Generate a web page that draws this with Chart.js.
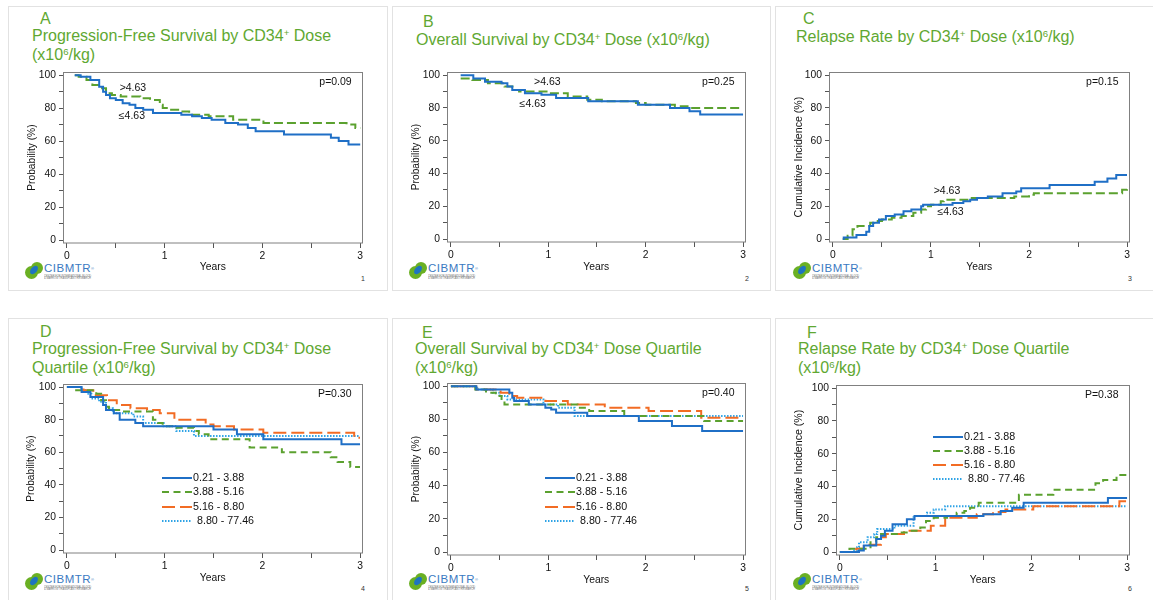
<!DOCTYPE html>
<html>
<head>
<meta charset="utf-8">
<script src="https://cdn.jsdelivr.net/npm/chart.js@4.4.1/dist/chart.umd.min.js"></script>
<style>
  html, body { margin:0; padding:0; background:#fff; }
  body { width:1153px; height:600px; overflow:hidden; position:relative; font-family:"Liberation Sans", Arial, sans-serif; }
  .card { position:absolute; border:1px solid #e2e2e2; box-sizing:border-box; background:#fff; }
  .ttl { position:absolute; white-space:nowrap; font-size:16px; line-height:19px; color:#5fa832; }
  .ttl sup { font-size:60%; line-height:0; vertical-align:0.5em; }
  canvas { position:absolute; }
  .lg1 { position:absolute; width:13px; height:13px; border-radius:50%; background:#6ab023; }
  .lg2 { position:absolute; width:12px; height:12px; border-radius:50%; background:#6ab023; }
  .lg3 { position:absolute; width:6px; height:10px; border-radius:50%; background:#1e74c0; transform:rotate(40deg); }
  .lgt { position:absolute; font-size:11.5px; line-height:11px; color:#3b7ac2; letter-spacing:0.5px; white-space:nowrap; }
  .lgt span { font-size:4px; vertical-align:top; }
  .lgs { position:absolute; font-size:8px; line-height:8px; color:#777; white-space:nowrap; transform:scale(0.32); transform-origin:0 0; }
  .pg { position:absolute; font-size:7px; color:#333; }
</style>
</head>
<body>
<script>
// ---------------- data ----------------
const xTicks = [0, 0.5, 1, 1.5, 2, 2.5, 3];
const yTicks = [0, 10, 20, 30, 40, 50, 60, 70, 80, 90, 100];
const doseGroups = ['\u22644.63', '>4.63'];
const quartiles = ['0.21 - 3.88', '3.88 - 5.16', '5.16 - 8.80', '8.80 - 77.46'];
const pValues = ['p=0.09', 'p=0.25', 'p=0.15', 'P=0.30', 'p=0.40', 'P=0.38'];

// A: progression-free survival, 2 groups  [years, %]
const A_low  = [[0.08,100],[0.14,99],[0.24,97],[0.33,93],[0.37,90],[0.40,88],[0.44,86],[0.50,85],[0.57,83],[0.64,82],[0.70,80],[0.78,79],[0.88,77],[1.17,76],[1.28,75],[1.38,74],[1.48,73],[1.62,71],[1.75,70],[1.85,68],[1.93,66],[2.22,64],[2.70,62],[2.78,60],[2.88,58],[3.0,58]];
const A_high = [[0.08,100],[0.12,99],[0.20,97],[0.26,94],[0.36,92],[0.40,89],[0.46,88],[0.55,87],[0.75,86],[0.85,85],[0.95,82],[0.98,80],[1.05,79],[1.15,78],[1.25,76],[1.45,75],[1.70,73],[2.01,71],[2.86,70],[2.95,68],[3.0,68]];
// B: overall survival, 2 groups
const B_low  = [[0.10,100],[0.23,98],[0.35,96],[0.52,95],[0.58,93],[0.63,91],[0.76,89],[0.93,88],[1.08,86],[1.41,84],[1.92,82],[2.25,80],[2.45,78],[2.56,76],[3.0,76]];
const B_high = [[0.10,98],[0.22,97],[0.38,95],[0.55,93],[0.66,91],[0.70,90],[1.00,89],[1.20,87],[1.40,85],[1.55,84],[1.90,83],[2.00,82],[2.30,81],[2.43,80],[3.0,80]];
// C: relapse, 2 groups
const C_low  = [[0.10,0],[0.11,1],[0.24,2.5],[0.34,4.5],[0.37,8],[0.41,10],[0.47,12],[0.54,14],[0.63,15],[0.72,17],[0.80,18],[0.90,20],[0.92,21],[1.22,22],[1.33,23],[1.40,24],[1.47,25],[1.58,26],[1.73,28],[1.87,29],[1.92,31],[2.21,33],[2.67,35],[2.80,37],[2.89,39],[3.0,39]];
const C_high = [[0.10,0],[0.15,2],[0.20,6],[0.25,8],[0.38,10],[0.42,11],[0.50,12],[0.60,13],[0.70,14],[0.82,16],[0.90,18],[0.95,20],[1.00,21],[1.10,23],[1.13,24],[1.40,25],[1.85,26],[2.00,27],[2.05,28],[2.95,30],[3.0,31]];
// D: progression-free survival, quartiles
const D_q1 = [[0,100],[0.15,97],[0.24,94],[0.37,89],[0.40,86],[0.48,84],[0.54,80],[0.70,78],[0.78,76],[1.50,74],[1.74,71],[2.01,68],[2.81,65],[3.0,65]];
const D_q2 = [[0,100],[0.07,98],[0.30,96],[0.35,92],[0.40,88],[0.43,86],[0.55,85],[0.88,80],[0.93,78],[0.98,76],[1.10,75],[1.30,73],[1.35,71],[1.45,68],[1.87,63],[2.20,60],[2.70,57],[2.77,54],[2.90,51],[3.0,51]];
const D_q3 = [[0,100],[0.17,98],[0.27,95],[0.41,92],[0.51,89],[0.65,87],[0.82,86],[0.95,84],[1.10,80],[1.42,77],[1.50,76],[1.71,74],[2.01,72],[2.94,69],[3.0,69]];
const D_q4 = [[0,100],[0.15,98],[0.20,96],[0.25,93],[0.33,91],[0.40,87],[0.47,84],[0.68,82],[0.78,78],[0.99,76],[1.12,73],[1.30,70],[3.0,70]];
// E: overall survival, quartiles
const E_q1 = [[0,100],[0.26,98],[0.60,96],[0.63,93],[0.65,91],[0.80,89],[0.97,87],[1.03,86],[1.08,84],[1.40,82],[1.93,79],[2.27,76],[2.58,73],[3.0,73]];
const E_q2 = [[0,100],[0.25,98],[0.36,96],[0.46,94],[0.52,91],[0.55,89],[1.30,87],[1.42,85],[1.78,83],[1.80,82],[2.60,79],[3.0,79]];
const E_q3 = [[0,100],[0.26,98],[0.51,96],[0.60,94],[0.68,93],[0.97,91],[1.20,89],[1.58,87],[2.03,85],[2.57,81],[3.0,81]];
const E_q4 = [[0,100],[0.27,98],[0.43,96],[0.50,94],[0.58,92],[0.95,89],[1.10,87],[1.27,82],[3.0,82]];
// F: relapse, quartiles
const F_q1 = [[0,0],[0.20,1],[0.25,4],[0.38,8],[0.43,10],[0.47,13],[0.55,17],[0.70,20],[0.78,22],[1.50,23],[1.68,25],[1.80,27],[1.92,30],[2.80,33],[3.0,33]];
const F_q2 = [[0,0],[0.10,2],[0.32,6],[0.38,9],[0.43,11],[0.62,12],[0.75,13],[0.84,15],[0.90,19],[0.98,21],[1.12,22],[1.22,24],[1.30,25],[1.36,27],[1.45,30],[1.87,35],[2.23,38],[2.67,42],[2.75,44],[2.89,47],[3.0,47]];
const F_q3 = [[0,0],[0.17,2],[0.25,4.5],[0.43,9],[0.48,11],[0.67,13],[0.95,16],[1.10,21],[1.43,23],[1.60,24.5],[1.73,26],[2.02,28],[2.92,31],[3.0,31]];
const F_q4 = [[0,0],[0.15,1],[0.18,3],[0.20,6],[0.29,9],[0.36,11],[0.39,14],[0.57,16],[0.77,22],[0.91,24],[0.98,26],[1.10,28],[3.0,28]];

// ---------------- styles ----------------
const FAM = '"Liberation Sans", Arial, sans-serif';
Chart.defaults.font.family = FAM;
const TXT = '#111';
const BLUE = '#1f6fc6', GREEN = '#5ba12f', ORANGE = '#f26c24', LBLUE = '#2ea3e6';
const sty2 = [ {color:BLUE, dash:[]}, {color:GREEN, dash:[9,4]} ];
const sty4 = [ {color:BLUE, dash:[]}, {color:GREEN, dash:[7,4.5]}, {color:ORANGE, dash:[13,5]}, {color:LBLUE, dash:[1.5,1.5]} ];

const cards = [
  [8,6,380,285],[392,6,379,285],[775,6,385,285],
  [8,318,380,290],[392,318,379,290],[775,318,385,290]
];
cards.forEach(c => {
  const d = document.createElement('div'); d.className = 'card';
  Object.assign(d.style, {left:c[0]+'px', top:c[1]+'px', width:c[2]+'px', height:c[3]+'px'});
  document.body.appendChild(d);
});

const titles = [
  {letter:'A', lx:40, lb:24, x:32, b:41, lines:['Progression-Free Survival by CD34<sup>+</sup> Dose','(x10<sup>6</sup>/kg)']},
  {letter:'B', lx:423, lb:27, x:416, b:45, lines:['Overall Survival by CD34<sup>+</sup> Dose (x10<sup>6</sup>/kg)']},
  {letter:'C', lx:803, lb:24, x:796, b:42, lines:['Relapse Rate by CD34<sup>+</sup> Dose (x10<sup>6</sup>/kg)']},
  {letter:'D', lx:40, lb:337, x:32, b:354, lines:['Progression-Free Survival by CD34<sup>+</sup> Dose','Quartile (x10<sup>6</sup>/kg)']},
  {letter:'E', lx:422, lb:338, x:415, b:354, lines:['Overall Survival by CD34<sup>+</sup> Dose Quartile','(x10<sup>6</sup>/kg)']},
  {letter:'F', lx:807, lb:338, x:798, b:354, lines:['Relapse Rate by CD34<sup>+</sup> Dose Quartile','(x10<sup>6</sup>/kg)']}
];
titles.forEach(t => {
  const a = document.createElement('div'); a.className = 'ttl';
  a.style.left = t.lx + 'px'; a.style.top = (t.lb - 15) + 'px'; a.textContent = t.letter;
  document.body.appendChild(a);
  const d = document.createElement('div'); d.className = 'ttl';
  d.style.left = t.x + 'px'; d.style.top = (t.b - 15) + 'px';
  d.innerHTML = t.lines.join('<br>');
  document.body.appendChild(d);
});

function logo(x, y, num, nx, ny) {
  const add = (cls, l, t, html) => {
    const e = document.createElement('div'); e.className = cls;
    e.style.left = l + 'px'; e.style.top = t + 'px';
    if (html) e.innerHTML = html;
    document.body.appendChild(e); return e;
  };
  add('lg2', x + 6, y);
  add('lg1', x, y + 4);
  add('lg3', x + 6, y + 3);
  add('lgt', x + 19, y + 1, 'CIBMTR<span>\u00ae</span>');
  add('lgs', x + 19, y + 13, 'CENTER FOR INTERNATIONAL BLOOD<br>&amp; MARROW TRANSPLANT RESEARCH');
  add('pg', nx, ny, String(num));
}
logo(25, 262, 1, 361, 275); logo(409, 262, 2, 745, 275); logo(793, 262, 3, 1128, 275);
logo(25, 573, 4, 361, 585); logo(409, 573, 5, 745, 585); logo(793, 573, 6, 1128, 585);

// ---------------- panels ----------------
const panels = [
  {l:64, t:71, r:361.7, b:243, ytOff:32, xtOff:24, yTitle:'Probability (%)', ytSize:10.2, p:pValues[0],
   series:[{label:doseGroups[0], data:A_low, ...sty2[0]}, {label:doseGroups[1], data:A_high, ...sty2[1]}],
   notes:[{text:'>4.63', x:0.675, y:92}, {text:'\u22644.63', x:0.665, y:75.3}]},
  {l:448, t:71, r:744.5, b:242, ytOff:32, xtOff:25, yTitle:'Probability (%)', ytSize:10.2, p:pValues[1],
   series:[{label:doseGroups[0], data:B_low, ...sty2[0]}, {label:doseGroups[1], data:B_high, ...sty2[1]}],
   notes:[{text:'>4.63', x:0.99, y:95.6}, {text:'\u22644.63', x:0.84, y:82.3}]},
  {l:830, t:71, r:1128.5, b:242, ytOff:31, xtOff:25, yTitle:'Cumulative Incidence (%)', ytSize:10.6, p:pValues[2],
   series:[{label:doseGroups[0], data:C_low, ...sty2[0]}, {label:doseGroups[1], data:C_high, ...sty2[1]}],
   notes:[{text:'>4.63', x:1.163, y:29}, {text:'\u22644.63', x:1.2, y:16.4}]},
  {l:64, t:383, r:361.5, b:553, ytOff:33, xtOff:25, yTitle:'Probability (%)', ytSize:10.2, p:pValues[3],
   series:[D_q1, D_q2, D_q3, D_q4].map((d,i) => ({label:quartiles[i], data:d, ...sty4[i]})),
   legend:{dx:98, dy:94, gap:14.3}},
  {l:448, t:382, r:744.5, b:555, ytOff:32, xtOff:25, yTitle:'Probability (%)', ytSize:10.2, p:pValues[4],
   series:[E_q1, E_q2, E_q3, E_q4].map((d,i) => ({label:quartiles[i], data:d, ...sty4[i]})),
   legend:{dx:97, dy:95, gap:14.3}},
  {l:837, t:384, r:1128.5, b:555, ytOff:38, xtOff:25, yTitle:'Cumulative Incidence (%)', ytSize:10.6, p:pValues[5],
   series:[F_q1, F_q2, F_q3, F_q4].map((d,i) => ({label:quartiles[i], data:d, ...sty4[i]})),
   legend:{dx:96, dy:52, gap:13.9}}
];

function overlay(p) {
  return {
    id: 'overlay',
    afterDatasetsDraw(chart) {
      const {ctx, chartArea: ca, scales} = chart;
      ctx.save();
      ctx.strokeStyle = '#808080'; ctx.lineWidth = 1; ctx.setLineDash([]);
      ctx.strokeRect(Math.round(ca.left) - 0.5, Math.round(ca.top) + 0.5, Math.round(ca.right - ca.left) + 1, Math.round(ca.bottom - ca.top) - 0.5);
      ctx.fillStyle = TXT;
      ctx.font = '10.5px ' + FAM;
      ctx.textBaseline = 'middle';
      ctx.textAlign = 'right';
      ctx.fillText(p.p, ca.right - 10, ca.top + 9.5);
      ctx.textAlign = 'center';
      (p.notes || []).forEach(n => {
        ctx.fillText(n.text, scales.x.getPixelForValue(n.x), scales.y.getPixelForValue(n.y));
      });
      if (p.legend) {
        const L = p.legend;
        const x0 = ca.left + L.dx, y0 = ca.top + L.dy;
        ctx.font = '10.7px ' + FAM;
        p.series.forEach((s, i) => {
          const y = Math.round(y0 + i * L.gap) + 0.5;
          ctx.save();
          ctx.strokeStyle = s.color; ctx.lineWidth = 2; ctx.setLineDash(s.dash);
          ctx.beginPath(); ctx.moveTo(x0, y - 0.5); ctx.lineTo(x0 + 30, y - 0.5); ctx.stroke();
          ctx.restore();
          ctx.textAlign = 'left';
          ctx.fillText(s.label, x0 + 31 + (i === 3 ? 4 : 0), y);
        });
      }
      ctx.restore();
    }
  };
}

panels.forEach(p => {
  const W = p.ytOff + 6, H = p.xtOff + 6, PT = 8;
  const left = p.l - W, top = p.t - PT;
  const w = Math.round(p.r - p.l + W + 12);
  const h = Math.round(p.b - p.t + PT + H);
  const padR = w - W - (p.r - p.l);
  const cv = document.createElement('canvas');
  cv.width = w; cv.height = h;
  Object.assign(cv.style, {left:left+'px', top:top+'px', width:w+'px', height:h+'px'});
  document.body.appendChild(cv);
  const tickFont = {size:10.3, family:FAM};
  new Chart(cv, {
    type: 'line',
    data: {
      datasets: p.series.map(s => ({
        label: s.label, data: s.data, borderColor: s.color, borderDash: s.dash,
        borderWidth: 2, pointRadius: 0, pointHoverRadius: 0, stepped: true, fill: false, tension: 0
      }))
    },
    options: {
      responsive: false, animation: false, devicePixelRatio: 1,
      events: [],
      layout: {padding: {top: PT, right: padR, left: 0, bottom: 0}},
      plugins: {legend: {display: false}, tooltip: {enabled: false}},
      scales: {
        x: {
          type: 'linear', min: -0.03, max: 3.015,
          afterBuildTicks: s => { s.ticks = xTicks.map(v => ({value: v})); },
          afterFit: s => { s.height = H; },
          ticks: {autoSkip: false, maxRotation: 0, padding: 2, color: TXT, font: tickFont,
                  callback: v => Number.isInteger(v) ? String(v) : ''},
          grid: {display: true, drawOnChartArea: false, drawTicks: true, tickLength: 5, color: '#555', tickColor: '#555'},
          border: {display: false},
          title: {display: true, text: 'Years', color: TXT, padding: 0, font: {size: 10.3, family: FAM, lineHeight: 1.2}}
        },
        y: {
          type: 'linear', min: -1.8, max: 101.8,
          afterBuildTicks: s => { s.ticks = yTicks.map(v => ({value: v})); },
          afterFit: s => { s.width = W; },
          ticks: {autoSkip: false, padding: 3, color: TXT, font: tickFont,
                  callback: v => (v % 20 === 0) ? String(v) : ''},
          grid: {display: true, drawOnChartArea: false, drawTicks: true, tickLength: 5, color: '#555', tickColor: '#555'},
          border: {display: false},
          title: {display: true, text: p.yTitle, color: TXT, padding: 0, font: {size: p.ytSize, family: FAM, lineHeight: 1.2}}
        }
      }
    },
    plugins: [overlay(p)]
  });
});
</script>
</body>
</html>
